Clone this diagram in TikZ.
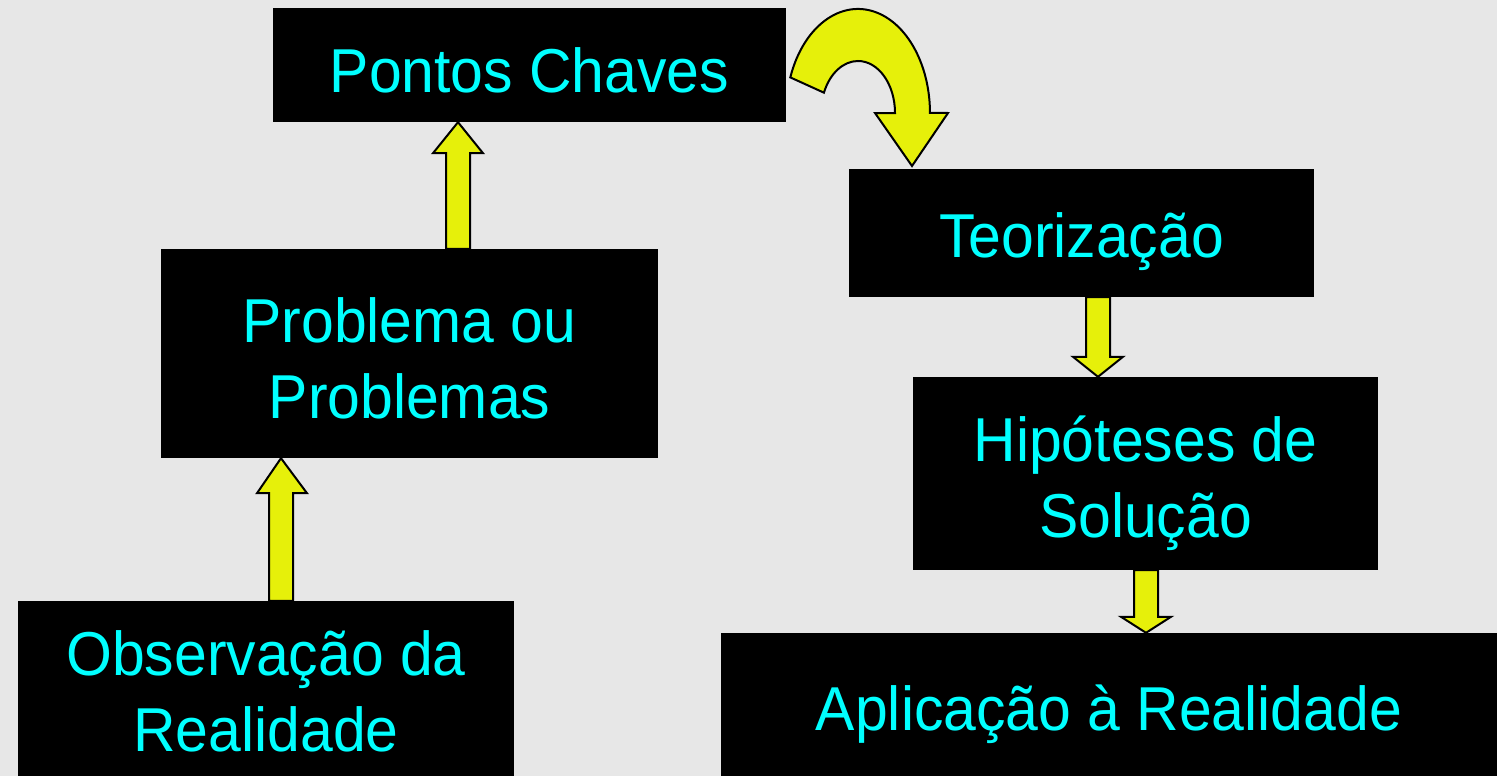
\documentclass[tikz,border=0pt]{standalone}
\usepackage{fontspec}
\setmainfont{Liberation Sans}[FakeStretch=0.95]
\usetikzlibrary{calc}
\definecolor{bg}{RGB}{231,231,231}
\definecolor{yel}{RGB}{230,240,10}
\definecolor{cy}{RGB}{0,255,255}
\begin{document}
\begin{tikzpicture}[x=1pt,y=1pt,
  box/.style={rectangle,fill=black,draw=none,inner sep=0pt},
  txt/.style={text=cy,inner sep=0pt,align=center,font=\fontsize{62}{76}\selectfont},
  blk/.style={fill=yel,draw=black,line width=2pt,line join=miter}]
\useasboundingbox (0,0) rectangle (1497,-776);
\fill[bg] (0,0) rectangle (1497,-776);
% boxes
\node[box,minimum width=513pt,minimum height=114pt] (pc) at (529.5,-65) {};
\node[box,minimum width=497pt,minimum height=209pt] (pb) at (409.5,-353.5) {};
\node[box,minimum width=496pt,minimum height=175pt] (ob) at (266,-688.5) {};
\node[box,minimum width=465pt,minimum height=128pt] (te) at (1081.5,-233) {};
\node[box,minimum width=465pt,minimum height=193pt] (hi) at (1145.5,-473.5) {};
\node[box,minimum width=776pt,minimum height=143pt] (ap) at (1109,-704.5) {};
% texts
\node[txt] (pct) at ([yshift=-5pt]pc.center) {Pontos Chaves};
\node[txt] (pbt) at ([yshift=-5pt]pb.center) {Problema ou\\Problemas};
\node[txt] (obt) at ([yshift=-3pt]ob.center) {Observação da\\Realidade};
\node[txt] (tet) at ([yshift=-9pt]te.center) {Teorização};
\node[txt] (hit) at ([yshift=-10pt]hi.center) {Hipóteses de\\Solução};
\node[txt] (apt) at ([yshift=-10pt]ap.center) {Aplicação à Realidade};
% block arrows
\draw[blk] let \p1=(pb.north), \p2=(pc.south) in
  (446pt,\y1) -- (446pt,\y2-31pt) -- (433pt,\y2-31pt) -- (458pt,\y2) -- (483pt,\y2-31pt) -- (470pt,\y2-31pt) -- (470pt,\y1) -- cycle;
\draw[blk] let \p1=(ob.north), \p2=(pb.south) in
  (269pt,\y1) -- (269pt,\y2-35pt) -- (257pt,\y2-35pt) -- (281pt,\y2) -- (307pt,\y2-35pt) -- (293pt,\y2-35pt) -- (293pt,\y1) -- cycle;
\draw[blk] let \p1=(te.south), \p2=(hi.north) in
  (1086pt,\y1) -- (1086pt,\y2+20pt) -- (1073pt,\y2+20pt) -- (1098pt,\y2) -- (1123pt,\y2+20pt) -- (1110pt,\y2+20pt) -- (1110pt,\y1) -- cycle;
\draw[blk] let \p1=(hi.south), \p2=(ap.north) in
  (1134pt,\y1) -- (1134pt,\y2+16pt) -- (1121pt,\y2+16pt) -- (1146pt,\y2) -- (1171pt,\y2+16pt) -- (1158pt,\y2+16pt) -- (1158pt,\y1) -- cycle;
% curved arrow
\draw[blk] (790.3,-77.4) arc[start angle=160, end angle=0, x radius=72pt, y radius=104pt]
  -- (948,-113) -- (912,-166) -- (875,-113) -- (895,-113)
  arc[start angle=0, end angle=157, x radius=37pt, y radius=52pt] -- cycle;
\end{tikzpicture}
\end{document}
